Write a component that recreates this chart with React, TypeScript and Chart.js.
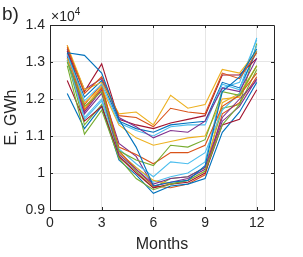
import React, { useEffect, useRef } from "react";
import { Chart, registerables } from "chart.js";

Chart.register(...registerables);

const months = [1, 2, 3, 4, 5, 6, 7, 8, 9, 10, 11, 12];
const xTickValues = [0, 3, 6, 9, 12];
const yTickValues = [9000, 10000, 11000, 12000, 13000, 14000];
const yTickLabels = ["0.9", "1", "1.1", "1.2", "1.3", "1.4"];
const colors = ["#0072BD", "#D95319", "#EDB120", "#7E2F8E", "#77AC30", "#4DBEEE", "#A2142F"];

const s0 = [13250, 13180, 12700, 11450, 10700, 9650, 9750, 9800, 10200, 12200, 12600, 13350];
const s1 = [13400, 12150, 12600, 11550, 11500, 11250, 11750, 11650, 11600, 12700, 12550, 13250];
const s2 = [13450, 12250, 12450, 11600, 11650, 11300, 12100, 11750, 11850, 12800, 12700, 13300];
const s3 = [13350, 12250, 12550, 11500, 11250, 10950, 11150, 11100, 11400, 12300, 12200, 13100];
const s4 = [13000, 11800, 12200, 10600, 10350, 10200, 10750, 10700, 10900, 12200, 12100, 12900];
const s5 = [13200, 11950, 12400, 11350, 11150, 11000, 11250, 11300, 11300, 12400, 12250, 13650];
const s6 = [13300, 12200, 12950, 11450, 11300, 11200, 11350, 11450, 11550, 12650, 12650, 13100];
const s7 = [13250, 12050, 12500, 11400, 11200, 11100, 11300, 11350, 11400, 12450, 12300, 13300];
const s8 = [13300, 11700, 12300, 10700, 10500, 10250, 10550, 10550, 10750, 11800, 12100, 12700];
const s9 = [13100, 11900, 12300, 11300, 10950, 10750, 10850, 10950, 11000, 12000, 12050, 12900];
const s10 = [13150, 11600, 12150, 10500, 10100, 9700, 9850, 9900, 10150, 11500, 12000, 12500];
const s11 = [12900, 11050, 11700, 10400, 9850, 9550, 9700, 9800, 10050, 11300, 11850, 12800];
const s12 = [13050, 11500, 12000, 10650, 10250, 9900, 10300, 10250, 10550, 11700, 12150, 13450];
const s13 = [12500, 11400, 11800, 10450, 10000, 9600, 9700, 9750, 10000, 11300, 11450, 12250];
const s14 = [12150, 11200, 11800, 10350, 9950, 9450, 9650, 9700, 9850, 11100, 11650, 12450];
const s15 = [13450, 11850, 12400, 10600, 10100, 9650, 9600, 9700, 9950, 11600, 11900, 12600];
const s16 = [13350, 11750, 12350, 10550, 10150, 9800, 9700, 9800, 10050, 11900, 12150, 12900];
const s17 = [13200, 11650, 12250, 10800, 10450, 9650, 9750, 9850, 10100, 11400, 11800, 12550];
const s18 = [13050, 11300, 11850, 10450, 10050, 9600, 9850, 9900, 10150, 11750, 11850, 13500];
const s19 = [13100, 11450, 11950, 10550, 10150, 9750, 9900, 10000, 10300, 12300, 12450, 13600];

const allSeries = [s0, s1, s2, s3, s4, s5, s6, s7, s8, s9, s10, s11, s12, s13, s14, s15, s16, s17, s18, s19];

const FONT = "'Liberation Sans', Arial, Helvetica, sans-serif";
const TEXT = "#262626";

const boxPlugin = {
  id: "matlabBox",
  afterDraw(chart: any) {
    const { ctx, chartArea } = chart;
    const { left, right, top, bottom } = chartArea;
    const xs = chart.scales.x;
    const ys = chart.scales.y;
    ctx.save();
    ctx.strokeStyle = TEXT;
    ctx.lineWidth = 1;
    ctx.beginPath();
    ctx.rect(Math.round(left) + 0.5, Math.round(top) + 0.5, Math.round(right - left), Math.round(bottom - top));
    ctx.stroke();
    const tl = 3;
    ctx.beginPath();
    xTickValues.forEach((v) => {
      const px = Math.round(xs.getPixelForValue(v)) + 0.5;
      ctx.moveTo(px, bottom);
      ctx.lineTo(px, bottom - tl);
      ctx.moveTo(px, top);
      ctx.lineTo(px, top + tl);
    });
    yTickValues.forEach((v) => {
      const py = Math.round(ys.getPixelForValue(v)) + 0.5;
      ctx.moveTo(left, py);
      ctx.lineTo(left + tl, py);
      ctx.moveTo(right, py);
      ctx.lineTo(right - tl, py);
    });
    ctx.stroke();
    // exponent label
    ctx.fillStyle = TEXT;
    ctx.textBaseline = "alphabetic";
    ctx.textAlign = "left";
    ctx.font = `14px ${FONT}`;
    const base = "\u00d710";
    ctx.fillText(base, left + 1, 21);
    const w = ctx.measureText(base).width;
    ctx.font = `10px ${FONT}`;
    ctx.fillText("4", left + 1 + w, 15);
    // panel label
    ctx.font = `19px ${FONT}`;
    ctx.fillText("b)", 2, 20);
    ctx.restore();
  },
};

export default function App() {
  const ref = useRef<HTMLCanvasElement | null>(null);
  useEffect(() => {
    document.body.style.margin = "0";
    const canvas = ref.current;
    if (!canvas) return;
    const chart = new Chart(canvas, {
      type: "line",
      data: {
        datasets: allSeries.map((s, i) => ({
          label: `S${i + 1}`,
          data: months.map((m, j) => ({ x: m, y: s[j] })),
          borderColor: colors[i % colors.length],
          backgroundColor: colors[i % colors.length],
          borderWidth: 1.1,
          pointRadius: 0,
          tension: 0,
          fill: false,
        })),
      },
      options: {
        animation: false,
        responsive: false,
        maintainAspectRatio: false,
        layout: { padding: { left: 0, right: 29, top: 25, bottom: 0 } },
        plugins: { legend: { display: false }, tooltip: { enabled: false } },
        scales: {
          x: {
            type: "linear",
            min: 0,
            max: 13,
            afterBuildTicks: (scale: any) => {
              scale.ticks = xTickValues.map((v) => ({ value: v }));
            },
            afterFit: (scale: any) => {
              scale.height = 47;
            },
            ticks: {
              color: TEXT,
              font: { family: FONT, size: 14 },
              padding: 5,
              maxRotation: 0,
              autoSkip: false,
            },
            grid: { color: "#e6e6e6", drawTicks: false },
            border: { display: false },
            title: {
              display: true,
              text: "Months",
              color: TEXT,
              font: { family: FONT, size: 16 },
              padding: { top: 0, bottom: 3 },
            },
          },
          y: {
            type: "linear",
            min: 9000,
            max: 14000,
            afterBuildTicks: (scale: any) => {
              scale.ticks = yTickValues.map((v) => ({ value: v }));
            },
            afterFit: (scale: any) => {
              scale.width = 50;
            },
            ticks: {
              color: TEXT,
              font: { family: FONT, size: 14 },
              padding: 5,
              autoSkip: false,
              callback: (v: any) => {
                const idx = yTickValues.indexOf(Number(v));
                return idx >= 0 ? yTickLabels[idx] : "";
              },
            },
            grid: { color: "#e6e6e6", drawTicks: false },
            border: { display: false },
            title: {
              display: true,
              text: "E, GWh",
              color: TEXT,
              font: { family: FONT, size: 16 },
              padding: { top: 2, bottom: 0 },
            },
          },
        },
      },
      plugins: [boxPlugin],
    });
    return () => chart.destroy();
  }, []);
  return (
    <div style={{ width: 303, height: 257, background: "#fff" }}>
      <canvas ref={ref} width={303} height={257} style={{ display: "block" }} />
    </div>
  );
}
